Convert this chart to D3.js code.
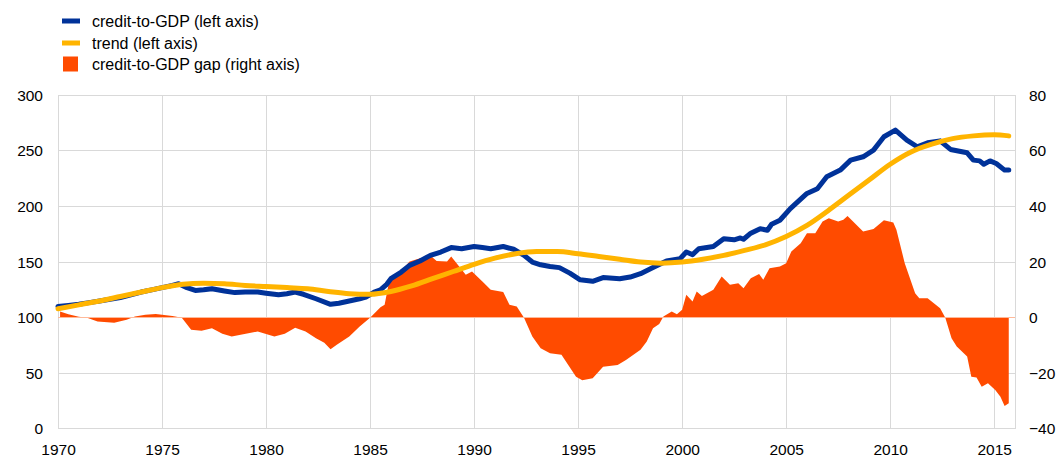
<!DOCTYPE html>
<html>
<head>
<meta charset="utf-8">
<script src="https://cdn.jsdelivr.net/npm/d3@7"></script>
<style>
  html, body { margin: 0; padding: 0; background: #fff; }
  svg { display: block; font-family: Arial, "Liberation Sans", sans-serif; }
</style>
</head>
<body>
<div id="chart"></div>
<script>
// credit-to-GDP ratio (left axis)
const creditYears = [1970.0, 1970.5, 1971.0, 1971.5, 1972.0, 1972.5, 1973.0, 1973.5, 1974.0, 1974.5,
  1975.0, 1975.5, 1975.8, 1976.2, 1976.6, 1977.0, 1977.4, 1978.0, 1978.5, 1979.0, 1979.6, 1980.0,
  1980.6, 1981.0, 1981.4, 1981.8, 1982.4, 1983.1, 1983.5, 1984.0, 1984.5, 1984.8, 1985.2, 1985.5,
  1985.8, 1986.0, 1986.5, 1986.9, 1987.4, 1987.9, 1988.4, 1988.9, 1989.4, 1990.0, 1990.4, 1990.8,
  1991.4, 1991.9, 1992.4, 1992.8, 1993.2, 1993.65, 1994.1, 1994.6, 1995.1, 1995.7, 1996.2, 1997.0,
  1997.5, 1998.0, 1998.6, 1999.25, 1999.9, 2000.2, 2000.5, 2000.8, 2001.5, 2002.0, 2002.5, 2002.8,
  2002.95, 2003.3, 2003.75, 2004.1, 2004.3, 2004.7, 2005.2, 2006.0, 2006.5, 2006.95, 2007.6, 2008.1,
  2008.7, 2009.2, 2009.7, 2010.25, 2010.8, 2011.3, 2011.8, 2012.4, 2012.9, 2013.7, 2014.0, 2014.3,
  2014.5, 2014.8, 2015.1, 2015.5, 2015.7];
const creditValues = [110, 111, 112, 113.5, 115, 116.5, 118, 120.5, 123, 125,
  127, 129, 130.5, 127, 124.5, 125, 126, 124, 122.5, 123, 123, 122,
  120.5, 121.5, 123, 121, 117, 112, 113, 115, 117, 118.5, 123, 125,
  130, 135, 141, 147, 151, 156, 159, 163, 162, 164, 163, 162,
  164, 161.5, 156, 150, 147.5, 146, 145, 140, 134, 132.7, 136, 135,
  136.5, 139.5, 145, 151, 153, 159, 156.7, 162, 164, 171, 170, 171.7,
  170.5, 176, 180, 178.6, 184, 187.6, 198, 211.7, 216, 226.7, 232.7, 241.7,
  244.7, 250.7, 262.7, 268.7, 259.7, 253.7, 257.3, 259, 251.3, 248.3, 241.7, 241,
  238, 241, 238.7, 232.7, 232.7];

// trend (left axis)
const trendYears = [1970, 1971, 1972, 1973, 1974, 1975, 1976, 1977, 1978, 1979, 1980, 1981, 1982,
  1983, 1984, 1985, 1986, 1987, 1988, 1989, 1990, 1991, 1992, 1993, 1994, 1995, 1996, 1997, 1998,
  1999, 2000, 2001, 2002, 2003, 2004, 2005, 2006, 2007, 2008, 2009, 2010, 2011, 2012, 2013, 2014,
  2015, 2015.7];
const trendValues = [108, 111.5, 115, 119, 123, 127, 130, 131, 130.5, 129, 128, 127, 126,
  123.5, 121.5, 121, 123.5, 128.5, 135, 141.5, 148, 153.5, 157.5, 159.5, 159.5, 157.5, 155, 152.5, 150,
  149, 150, 152.5, 156, 160.5, 165.5, 173, 183, 196, 210, 224, 238, 249, 256, 261, 263.5,
  264.5, 263.5];

// credit-to-GDP gap (right axis)
const gapYears = [1970.1, 1970.5, 1971.0, 1971.4, 1971.9, 1972.7, 1973.3, 1973.7, 1974.2, 1974.7,
  1975.5, 1975.95, 1976.4, 1976.9, 1977.4, 1977.9, 1978.35, 1979.15, 1979.6, 1980.4, 1980.9, 1981.4,
  1981.9, 1982.4, 1982.8, 1983.1, 1983.4, 1984.0, 1984.5, 1985.0, 1985.5, 1985.7, 1985.9, 1986.4,
  1986.9, 1987.4, 1987.95, 1988.2, 1988.7, 1988.9, 1989.6, 1989.9, 1990.4, 1990.8, 1991.4, 1991.7,
  1992.05, 1992.4, 1992.8, 1993.2, 1993.65, 1994.2, 1994.9, 1995.2, 1995.7, 1996.2, 1996.9, 1997.3,
  1998.0, 1998.3, 1998.6, 1998.9, 1999.1, 1999.5, 1999.75, 2000.0, 2000.2, 2000.5, 2000.7, 2000.95,
  2001.5, 2001.9, 2002.3, 2002.7, 2002.95, 2003.3, 2003.7, 2003.9, 2004.2, 2004.7, 2005.0, 2005.25,
  2005.7, 2006.0, 2006.4, 2006.75, 2007.05, 2007.5, 2007.75, 2007.95, 2008.3, 2008.7, 2009.2, 2009.7,
  2010.15, 2010.3, 2010.7, 2011.2, 2011.4, 2011.8, 2012.1, 2012.4, 2012.65, 2012.95, 2013.2, 2013.7,
  2013.9, 2014.15, 2014.4, 2014.7, 2015.05, 2015.3, 2015.5, 2015.7];
const gapValues = [2.2, 1.2, 0.3, 0, -1.4, -1.8, -0.8, 0.4, 1.0, 1.3,
  0.6, 0, -4.4, -4.7, -3.8, -5.8, -6.8, -5.6, -5, -6.8, -5.8, -3.6,
  -5, -7.4, -9, -11.4, -9.8, -6.8, -3.2, 0, 3.7, 4.6, 12.4, 16,
  20.2, 21.4, 22, 20.4, 20.2, 22, 15.4, 16.6, 13, 10, 9.2, 4.6,
  4, 0, -6.8, -11, -12.8, -13.4, -21.3, -22.5, -21.8, -17.7, -17, -15.2,
  -11.6, -8.6, -3.8, -2.3, 0.4, 2.2, 1.2, 2.8, 8.2, 5.8, 9.4, 7.8,
  10, 14.8, 11.8, 12.4, 10.6, 14.2, 15.7, 13.6, 17.8, 18.4, 19.6, 23.8,
  26.8, 30.4, 30.4, 34.6, 35.8, 34.6, 35.2, 36.6, 34, 31, 31.9, 35,
  34.2, 31.6, 19.6, 8.8, 7, 7, 5.2, 3.4, 0, -7.4, -10.4, -14,
  -21.3, -21.5, -24.9, -23.6, -26, -28.5, -31.8, -30.8];

const xTicks = [1970, 1975, 1980, 1985, 1990, 1995, 2000, 2005, 2010, 2015];
const leftTicks = [0, 50, 100, 150, 200, 250, 300];
const rightTicks = [-40, -20, 0, 20, 40, 60, 80];
const legendLabels = ['credit-to-GDP (left axis)', 'trend (left axis)', 'credit-to-GDP gap (right axis)'];

const colors = {
  credit: '#003299',
  trend: '#ffb400',
  gap: '#ff4b00',
  grid: '#d9d9d9',
  text: '#000000'
};

const width = 1061, height = 458;
const plot = { left: 58, right: 1015, top: 95.3, bottom: 428.8 };

const svg = d3.select('#chart').append('svg')
  .attr('width', width)
  .attr('height', height);

const x = d3.scaleLinear().domain([1970, 2016]).range([plot.left, plot.right]);
const yL = d3.scaleLinear().domain([0, 300]).range([plot.bottom, plot.top]);
const yR = d3.scaleLinear().domain([-40, 80]).range([plot.bottom, plot.top]);

// grid
const grid = svg.append('g').attr('class', 'grid')
  .attr('stroke', colors.grid).attr('stroke-width', 1).attr('shape-rendering', 'crispEdges');
grid.selectAll('line.h').data(leftTicks).enter().append('line')
  .attr('class', 'h')
  .attr('x1', plot.left).attr('x2', plot.right)
  .attr('y1', d => yL(d)).attr('y2', d => yL(d));
grid.selectAll('line.v').data(xTicks.concat([2016])).enter().append('line')
  .attr('class', 'v')
  .attr('x1', d => x(d)).attr('x2', d => x(d))
  .attr('y1', plot.top).attr('y2', plot.bottom);

// gap area
const gapData = gapYears.map((yr, i) => ({ yr, v: gapValues[i] }));
svg.append('path')
  .datum(gapData)
  .attr('fill', colors.gap)
  .attr('d', d3.area().x(d => x(d.yr)).y0(yR(0)).y1(d => yR(d.v)));

// thin light line at zero through the area
svg.append('line')
  .attr('x1', plot.left).attr('x2', plot.right)
  .attr('y1', yR(0)).attr('y2', yR(0))
  .attr('stroke', '#ffb999').attr('stroke-width', 1).attr('shape-rendering', 'crispEdges');

const line = d3.line().x(d => x(d.yr)).y(d => yL(d.v));

const creditData = creditYears.map((yr, i) => ({ yr, v: creditValues[i] }));
svg.append('path')
  .datum(creditData)
  .attr('fill', 'none')
  .attr('stroke', colors.credit)
  .attr('stroke-width', 5)
  .attr('stroke-linecap', 'round')
  .attr('stroke-linejoin', 'round')
  .attr('d', line);

const trendData = trendYears.map((yr, i) => ({ yr, v: trendValues[i] }));
svg.append('path')
  .datum(trendData)
  .attr('fill', 'none')
  .attr('stroke', colors.trend)
  .attr('stroke-width', 5)
  .attr('stroke-linecap', 'round')
  .attr('stroke-linejoin', 'round')
  .attr('d', line.curve(d3.curveMonotoneX));

// axes
const axisL = svg.append('g')
  .attr('transform', `translate(${plot.left},0)`)
  .call(d3.axisLeft(yL).tickValues(leftTicks).tickSize(0).tickPadding(15));
const axisR = svg.append('g')
  .attr('transform', `translate(${plot.right},0)`)
  .call(d3.axisRight(yR).tickValues(rightTicks).tickSize(0).tickPadding(14).tickFormat(d3.format('d')));
const axisB = svg.append('g')
  .attr('transform', `translate(0,${plot.bottom})`)
  .call(d3.axisBottom(x).tickValues(xTicks).tickSize(0).tickPadding(15).tickFormat(d3.format('d')));

[axisL, axisR, axisB].forEach(a => {
  a.select('.domain').remove();
  a.selectAll('text')
    .attr('fill', colors.text)
    .attr('font-size', '15.5px')
    .attr('font-family', 'Arial, "Liberation Sans", sans-serif');
});

// legend
const legend = svg.append('g').attr('class', 'legend');
const legendColors = [colors.credit, colors.trend, colors.gap];
const legendY = [21, 43, 64];
legendLabels.forEach((label, i) => {
  if (i < 2) {
    legend.append('rect')
      .attr('x', 62).attr('y', legendY[i] - 2.5)
      .attr('width', 18).attr('height', 5)
      .attr('fill', legendColors[i]);
  } else {
    legend.append('rect')
      .attr('x', 63).attr('y', legendY[i] - 7.5)
      .attr('width', 15).attr('height', 15)
      .attr('fill', legendColors[i]);
  }
  legend.append('text')
    .attr('x', 92).attr('y', legendY[i])
    .attr('dy', '0.35em')
    .attr('font-size', '16px')
    .attr('fill', colors.text)
    .text(label);
});
</script>
</body>
</html>
